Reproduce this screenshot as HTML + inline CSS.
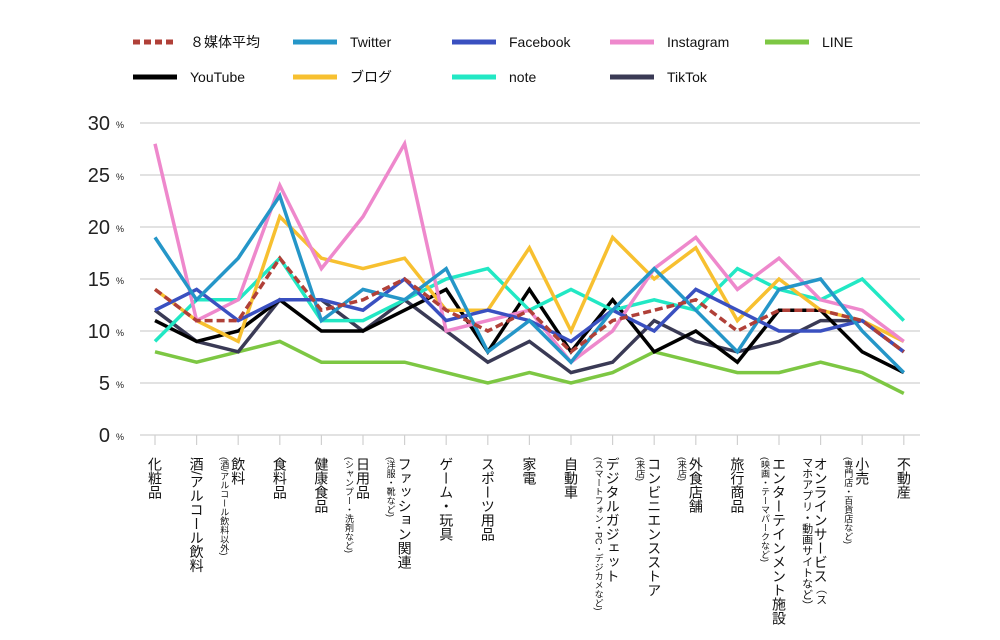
<!DOCTYPE html>
<html><head><meta charset="utf-8">
<style>
body{margin:0;background:#fff;font-family:"Liberation Sans","Noto Sans CJK JP",sans-serif;}
#wrap{position:relative;width:1000px;height:640px;overflow:hidden;}
.xl{position:absolute;top:457px;writing-mode:vertical-rl;font-size:14px;line-height:14px;color:#111;white-space:nowrap;}
.xl small{font-size:9px;line-height:13px;}
</style></head><body>
<div id="wrap">
<svg id="svg" width="1000" height="640" style="position:absolute;left:0;top:0"></svg>
<div id="labels"></div>
</div>
<script>
const categories=["化粧品","酒/アルコール飲料","飲料","食料品","健康食品","日用品","ファッション関連","ゲーム・玩具","スポーツ用品","家電","自動車","デジタルガジェット","コンビニエンスストア","外食店舗","旅行商品","エンターテインメント施設","オンラインサービス","小売","不動産"];
const subLabels=["","","(酒/アルコール飲料以外)","","","(シャンプー・洗剤など)","(洋服・靴など)","","","","","(スマートフォン・PC・デジカメなど)","(来店)","(来店)","","(映画・テーマパークなど)","","(専門店・百貨店など)",""];
const seriesNames=["８媒体平均","Twitter","Facebook","Instagram","LINE","YouTube","ブログ","note","TikTok"];
const avgVals=[14,11,11,17,12,13,15,12,10,12,8,11,12,13,10,12,12,11,8];
const twitterVals=[19,13,17,23,11,14,13,16,8,11,7,12,16,12,8,14,15,10,6];
const facebookVals=[12,14,11,13,13,12,15,11,12,11,9,12,10,14,12,10,10,11,8];
const instagramVals=[28,11,13,24,16,21,28,10,11,12,7,10,16,19,14,17,13,12,9];
const lineVals=[8,7,8,9,7,7,7,6,5,6,5,6,8,7,6,6,7,6,4];
const youtubeVals=[11,9,10,13,10,10,12,14,8,14,8,13,8,10,7,12,12,8,6];
const blogVals=[14,11,9,21,17,16,17,12,12,18,10,19,15,18,11,15,12,11,9];
const noteVals=[9,13,13,17,11,11,13,15,16,12,14,12,13,12,16,14,13,15,11];
const tiktokVals=[12,9,8,13,13,10,13,10,7,9,6,7,11,9,8,9,11,11,8];
const yTicks=[0,5,10,15,20,25,30];
const colors=["#b04038","#2596c8","#3a50c0","#ee88cc","#7dc743","#000000","#f7c030","#22e8c4","#3a3a55"];
const allVals=[avgVals,twitterVals,facebookVals,instagramVals,lineVals,youtubeVals,blogVals,noteVals,tiktokVals];
const ns="http://www.w3.org/2000/svg";
const svg=document.getElementById('svg');
const X=i=>155+i*41.6;
const Y=v=>435-v*10.4;
function mk(t,a){const e=document.createElementNS(ns,t);for(const k in a)e.setAttribute(k,a[k]);svg.appendChild(e);return e;}
yTicks.forEach(t=>{
 const g=mk('line',{x1:140,x2:920,y1:Y(t),y2:Y(t),stroke:'#d0d0d0','stroke-width':1.2});
 
 
 const tx=mk('text',{x:110,y:Y(t)+7,'text-anchor':'end','font-size':20,fill:'#222','font-family':'Liberation Sans, sans-serif'});
 tx.textContent=t;
 
 
 const p=mk('text',{x:116,y:Y(t)+5,'font-size':9,fill:'#222'});
 p.textContent='%';
 
 
});
categories.forEach((c,i)=>{
 const tk=mk('line',{x1:X(i),x2:X(i),y1:Y(0),y2:Y(0)+10,stroke:'#d0d0d0','stroke-width':1.2});
 
 
});
const order=[4,8,5,7,6,3,2,1,0];
order.forEach(s=>{
 const pts=allVals[s].map((v,i)=>X(i)+','+Y(v)).join(' ');
 const a={points:pts,fill:'none',stroke:colors[s],'stroke-width':3.5,'stroke-linejoin':'miter'};
 if(s===0)a['stroke-dasharray']='8,4';
 const pl=mk('polyline',a);
 
 
});
const legX=[133,293,452,610,765];
seriesNames.forEach((n,s)=>{
 const row=s<5?0:1,col=s<5?s:s-5;
 const y=row?77:42,x=legX[col];
 const a={x1:x,x2:x+44,y1:y,y2:y,stroke:colors[s],'stroke-width':5};
 if(s===0)a['stroke-dasharray']='7,4';
 const l=mk('line',a);
 
 
 const t=mk('text',{x:x+57,y:y+5,'font-size':14,fill:'#111','font-family':'Liberation Sans, Noto Sans CJK JP, sans-serif'});
 t.textContent=n;
 
 
});
const lab=document.getElementById('labels');
categories.forEach((c,i)=>{
 const d=document.createElement('div');
 d.className='xl';
 
 
 if(i===16){d.innerHTML='オンラインサービス<small style="font-size:11px">（ス</small><br><span style="font-size:11px">マホアプリ・動画サイトなど）</span>';}
 else if(subLabels[i]){d.innerHTML=c+'<br><small>'+subLabels[i]+'</small>';}
 else d.textContent=c;
 d.style.right=(1000-(X(i)+7))+'px';
 lab.appendChild(d);
});
</script>
</body></html>
